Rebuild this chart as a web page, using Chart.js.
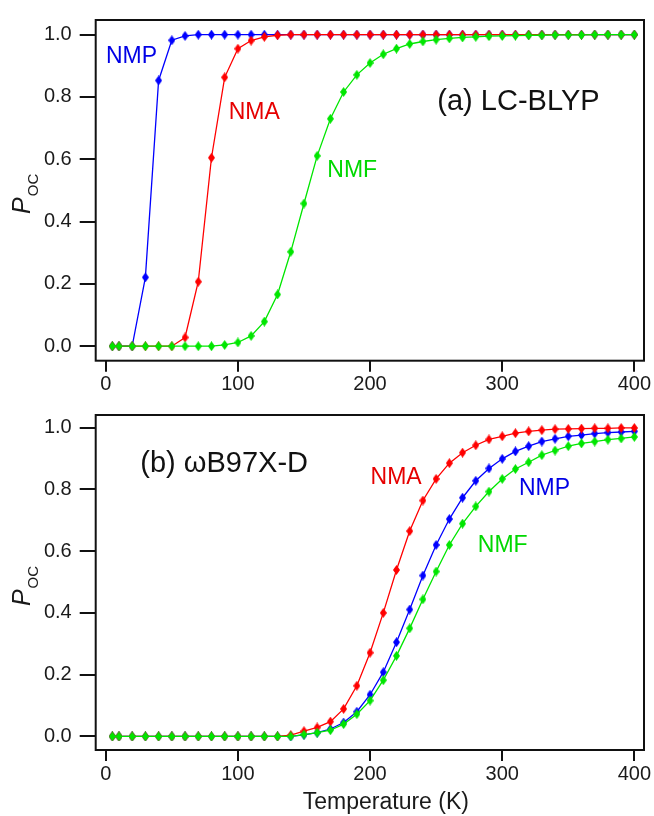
<!DOCTYPE html>
<html>
<head>
<meta charset="utf-8">
<script src="https://cdn.jsdelivr.net/npm/chart.js@4.4.0/dist/chart.umd.min.js"></script>
<style>
  body { margin: 0; background: #fff; }
  #wrap { position: relative; width: 654px; height: 816px; }
  #top { position: absolute; left: 0; top: 0; width: 654px; height: 395px; }
  #bottom { position: absolute; left: 0; top: 395px; width: 654px; height: 421px; }
</style>
</head>
<body>
<div id="wrap">
  <div id="top"><canvas id="chartA"></canvas></div>
  <div id="bottom"><canvas id="chartB"></canvas></div>
</div>
<script>
// temperatures (K)
const temps = [5, 10, 20, 30, 40, 50, 60, 70, 80, 90, 100,
  110, 120, 130, 140, 150, 160, 170, 180, 190, 200,
  210, 220, 230, 240, 250, 260, 270, 280, 290, 300,
  310, 320, 330, 340, 350, 360, 370, 380, 390, 400];

// (a) LC-BLYP
const lcNMP = [0, 0, 0, 0.221, 0.853, 0.982, 0.996, 1, 1, 1, 1,
  1, 1, 1, 1, 1, 1, 1, 1, 1, 1,
  1, 1, 1, 1, 1, 1, 1, 1, 1, 1,
  1, 1, 1, 1, 1, 1, 1, 1, 1, 1];
const lcNMA = [0, 0, 0, 0, 0, 0, 0.028, 0.207, 0.605, 0.863, 0.955,
  0.981, 0.993, 0.998, 1, 1, 1, 1, 1, 1, 1,
  1, 1, 1, 1, 1, 1, 1, 1, 1, 1,
  1, 1, 1, 1, 1, 1, 1, 1, 1, 1];
const lcNMF = [0, 0, 0, 0, 0, 0, 0, 0, 0, 0.004, 0.012,
  0.033, 0.079, 0.166, 0.303, 0.458, 0.611, 0.730, 0.816, 0.871, 0.909,
  0.937, 0.955, 0.970, 0.978, 0.984, 0.988, 0.991, 0.993, 0.995, 0.996,
  0.997, 0.998, 0.998, 0.999, 0.999, 0.999, 1, 1, 1, 1];

// (b) wB97X-D
const wbNMA = [0, 0, 0, 0, 0, 0, 0, 0, 0, 0, 0,
  0, 0, 0, 0.004, 0.017, 0.029, 0.048, 0.089, 0.164, 0.271,
  0.400, 0.539, 0.665, 0.764, 0.834, 0.885, 0.919, 0.943, 0.962, 0.972,
  0.982, 0.988, 0.992, 0.995, 0.996, 0.997, 0.998, 0.998, 0.999, 0.999];
const wbNMP = [0, 0, 0, 0, 0, 0, 0, 0, 0, 0, 0,
  0, 0, 0, 0, 0.005, 0.012, 0.024, 0.045, 0.080, 0.135,
  0.208, 0.305, 0.411, 0.521, 0.620, 0.704, 0.773, 0.828, 0.868, 0.899,
  0.923, 0.940, 0.955, 0.964, 0.972, 0.976, 0.981, 0.984, 0.986, 0.988];
const wbNMF = [0, 0, 0, 0, 0, 0, 0, 0, 0, 0, 0,
  0, 0, 0, 0, 0.006, 0.012, 0.020, 0.040, 0.072, 0.116,
  0.182, 0.261, 0.350, 0.444, 0.534, 0.620, 0.689, 0.745, 0.793, 0.834,
  0.866, 0.888, 0.911, 0.926, 0.940, 0.949, 0.955, 0.961, 0.965, 0.970];

const xTicks = [0, 100, 200, 300, 400];
const yTicks = [0, 0.2, 0.4, 0.6, 0.8, 1.0];

const FONT = '"Liberation Sans", Arial, Helvetica, sans-serif';
const BLUE = '#0000ff', RED = '#ff0000', GREEN = '#00e600';

Chart.defaults.font.family = FONT;
Chart.defaults.color = '#1a1a1a';

function diamond(color, w, h) {
  const c = document.createElement('canvas');
  c.width = w; c.height = h;
  const g = c.getContext('2d');
  g.fillStyle = color;
  g.beginPath();
  g.moveTo(w / 2, 0); g.lineTo(w, h / 2); g.lineTo(w / 2, h); g.lineTo(0, h / 2);
  g.closePath();
  g.fill();
  return c;
}

function series(vals, color) {
  return {
    data: temps.map((t, i) => ({ x: t, y: vals[i] })),
    borderColor: color,
    backgroundColor: color,
    borderWidth: 1.3,
    pointStyle: diamond(color, 7, 10),
    pointRadius: 5,
    tension: 0
  };
}

// frame, axis titles and in-plot labels
const panelDeco = {
  id: 'panelDeco',
  afterDraw(chart, args, opts) {
    const ctx = chart.ctx;
    const a = chart.chartArea;
    const xs = chart.scales.x, ys = chart.scales.y;
    ctx.save();
    ctx.strokeStyle = '#111';
    ctx.lineWidth = 2;
    ctx.strokeRect(a.left, a.top, a.right - a.left, a.bottom - a.top);

    // y title P_OC
    ctx.fillStyle = '#1a1a1a';
    ctx.textBaseline = 'alphabetic';
    ctx.textAlign = 'left';
    ctx.font = 'italic 25px ' + FONT;
    const wP = ctx.measureText('P').width;
    ctx.font = '15px ' + FONT;
    const wS = ctx.measureText('OC').width;
    const cy = (a.top + a.bottom) / 2;
    ctx.save();
    ctx.translate(30, cy + (wP + wS) / 2 + 4);
    ctx.rotate(-Math.PI / 2);
    ctx.font = 'italic 25px ' + FONT;
    ctx.fillText('P', 0, 0);
    ctx.font = '15px ' + FONT;
    ctx.fillText('OC', wP + 1, 8);
    ctx.restore();

    if (opts.xTitle) {
      ctx.font = '23px ' + FONT;
      ctx.textAlign = 'center';
      ctx.fillText(opts.xTitle, (a.left + a.right) / 2 + 16, a.bottom + 59);
    }

    ctx.textAlign = 'center';
    ctx.textBaseline = 'middle';
    for (const l of opts.labels || []) {
      ctx.font = l.size + 'px ' + FONT;
      ctx.fillStyle = l.color;
      ctx.fillText(l.text, xs.getPixelForValue(l.x), ys.getPixelForValue(l.y));
    }
    ctx.restore();
  }
};

function makeChart(id, sets, yMin, yMax, pad, xHeight, deco) {
  return new Chart(document.getElementById(id), {
    type: 'line',
    data: { datasets: sets },
    plugins: [panelDeco],
    options: {
      responsive: true,
      maintainAspectRatio: false,
      animation: false,
      layout: { padding: pad },
      plugins: {
        legend: { display: false },
        tooltip: { enabled: false },
        panelDeco: deco
      },
      scales: {
        x: {
          type: 'linear',
          min: -7.6,
          max: 407.3,
          afterBuildTicks: s => { s.ticks = xTicks.map(v => ({ value: v })); },
          afterFit: s => { s.height = xHeight; },
          border: { display: false },
          grid: { drawOnChartArea: false, color: '#111', lineWidth: 2, tickLength: 11 },
          ticks: { font: { size: 20 }, padding: 1, maxRotation: 0 }
        },
        y: {
          type: 'linear',
          min: yMin,
          max: yMax,
          afterBuildTicks: s => { s.ticks = yTicks.map(v => ({ value: v })); },
          afterFit: s => { s.width = 95.7; },
          border: { display: false },
          grid: { drawOnChartArea: false, color: '#111', lineWidth: 2, tickLength: 16 },
          ticks: { font: { size: 20 }, padding: 8, callback: v => v.toFixed(1) }
        }
      }
    }
  });
}

makeChart('chartA',
  [series(lcNMF, GREEN), series(lcNMA, RED), series(lcNMP, BLUE)],
  -0.0465, 1.047, { top: 15, right: 10, left: 0, bottom: 0 }, 34.3,
  {
    labels: [
      { text: 'NMP', x: 19.5, y: 0.928, color: '#0000e6', size: 23 },
      { text: 'NMA', x: 112.4, y: 0.75, color: '#e60000', size: 23 },
      { text: 'NMF', x: 186.5, y: 0.563, color: '#00d800', size: 23 },
      { text: '(a) LC-BLYP', x: 312.3, y: 0.785, color: '#111', size: 29 }
    ]
  });

makeChart('chartB',
  [series(wbNMF, GREEN), series(wbNMA, RED), series(wbNMP, BLUE)],
  -0.044, 1.041, { top: 10.7, right: 10, left: 0, bottom: 0 }, 66,
  {
    xTitle: 'Temperature (K)',
    labels: [
      { text: '(b) \u03c9B97X-D', x: 89.6, y: 0.882, color: '#111', size: 29 },
      { text: 'NMA', x: 219.7, y: 0.838, color: '#e60000', size: 23 },
      { text: 'NMP', x: 332, y: 0.801, color: '#0000e6', size: 23 },
      { text: 'NMF', x: 300.4, y: 0.618, color: '#00d800', size: 23 }
    ]
  });
</script>
</body>
</html>
